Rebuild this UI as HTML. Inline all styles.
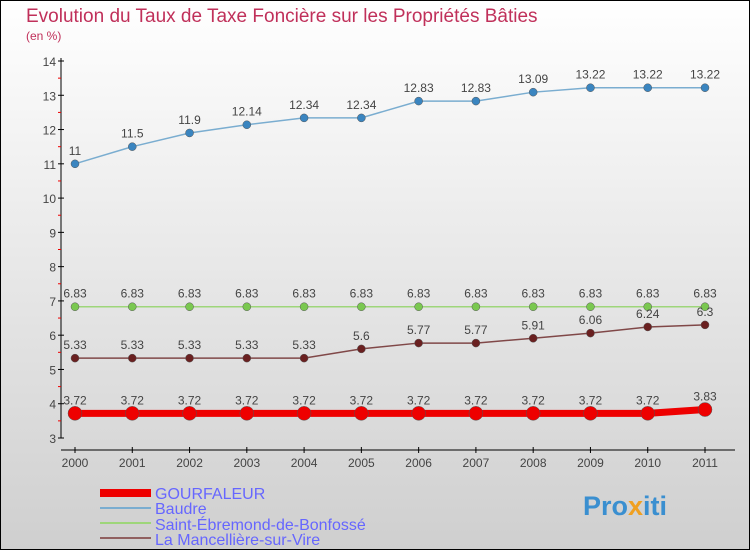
<!DOCTYPE html>
<html><head><meta charset="utf-8"><style>
body{margin:0}
svg{display:block;font-family:"Liberation Sans",sans-serif}
</style></head><body>
<svg id="c" width="750" height="550" xmlns="http://www.w3.org/2000/svg">
<defs><linearGradient id="bg" x1="0" y1="0" x2="0" y2="1"><stop offset="0" stop-color="#ffffff"/><stop offset="1" stop-color="#cfcfcf"/></linearGradient></defs>
<rect x="0.5" y="0.5" width="749" height="549" fill="url(#bg)" stroke="#000"/>
<text x="26" y="22" font-size="19" fill="#c0305a">Evolution du Taux de Taxe Foncière sur les Propriétés Bâties</text>
<text x="26" y="40" font-size="12" fill="#c0305a">(en %)</text>
<g id="axes"></g><g id="series"></g>
<g>
<rect x="100" y="489" width="51" height="8" fill="#e00"/>
<text x="155" y="499" font-size="16" fill="#6666ff">GOURFALEUR</text>
<rect x="100" y="507" width="51" height="2" fill="#7aadd0"/>
<text x="155" y="514" font-size="16" fill="#6666ff">Baudre</text>
<rect x="100" y="522" width="51" height="2" fill="#9ed67a"/>
<text x="155" y="530" font-size="16" fill="#6666ff">Saint-Ébremond-de-Bonfossé</text>
<rect x="100" y="537" width="51" height="2" fill="#906060"/>
<text x="155" y="545" font-size="16" fill="#6666ff">La Mancellière-sur-Vire</text>
</g>
<text x="583" y="515" font-size="27" font-weight="bold" fill="#3a8fd0">Pro<tspan fill="#f0a020">x</tspan>iti</text>
</svg>
<script>
const years=[2000,2001,2002,2003,2004,2005,2006,2007,2008,2009,2010,2011];
const yTicks=[3,4,5,6,7,8,9,10,11,12,13,14];
const gourfaleur=[3.72,3.72,3.72,3.72,3.72,3.72,3.72,3.72,3.72,3.72,3.72,3.83];
const baudre=[11,11.5,11.9,12.14,12.34,12.34,12.83,12.83,13.09,13.22,13.22,13.22];
const saintEbremond=[6.83,6.83,6.83,6.83,6.83,6.83,6.83,6.83,6.83,6.83,6.83,6.83];
const laMancelliere=[5.33,5.33,5.33,5.33,5.33,5.6,5.77,5.77,5.91,6.06,6.24,6.3];
const NS="http://www.w3.org/2000/svg";
const xS=i=>75+i*(705-75)/(years.length-1);
const yS=v=>438-(v-3)*(438-61)/11;
function mk(t,a,p){const e=document.createElementNS(NS,t);for(const k in a)e.setAttribute(k,a[k]);p.appendChild(e);return e;}
const ax=document.getElementById('axes');
let yl=mk('line',{x1:61,y1:58,x2:61,y2:438,stroke:'#000'},ax);


let xl=mk('line',{x1:61,y1:450,x2:735,y2:450,stroke:'#000'},ax);


yTicks.forEach((v,i)=>{
  mk('line',{x1:58,y1:yS(v),x2:64,y2:yS(v),stroke:'#000'},ax);
  if(i<yTicks.length-1) mk('line',{x1:58,y1:yS(v+0.5),x2:61,y2:yS(v+0.5),stroke:'#e00'},ax);
  const t=mk('text',{x:56,y:yS(v)+5,'font-size':12,fill:'#444','text-anchor':'end'},ax);
  t.textContent=v;
  
  
});
years.forEach((y,i)=>{
  mk('line',{x1:xS(i),y1:447,x2:xS(i),y2:453,stroke:'#000'},ax);
  const t=mk('text',{x:xS(i),y:467,'font-size':12,fill:'#444','text-anchor':'middle'},ax);
  t.textContent=y;
  
  
});
const sg=document.getElementById('series');
function series(vals,name,col,dot,w,r){
  const g=mk('g',{},sg);
  
  
  mk('polyline',{points:vals.map((v,i)=>xS(i)+','+yS(v)).join(' '),fill:'none',stroke:col,'stroke-width':w},g);
  vals.forEach((v,i)=>{
    const c=mk('circle',{cx:xS(i),cy:yS(v),r:r,fill:dot,stroke:'#555','stroke-width':0.5},g);
    
    
    const t=mk('text',{x:xS(i),y:yS(v)-9,'font-size':12,fill:'#444','text-anchor':'middle'},g);
    t.textContent=String(v);
    
    
  });
}
series(baudre,'baudre-series','#7aadd0','#3a85c0',1.5,4);
series(saintEbremond,'saint-ebremond-series','#9ed67a','#7ac850',1.5,4);
series(laMancelliere,'la-mancelliere-series','#804848','#6a2020',1.5,4);
series(gourfaleur,'gourfaleur-series','#e00','#e00',7,7);
</script>
</body></html>
